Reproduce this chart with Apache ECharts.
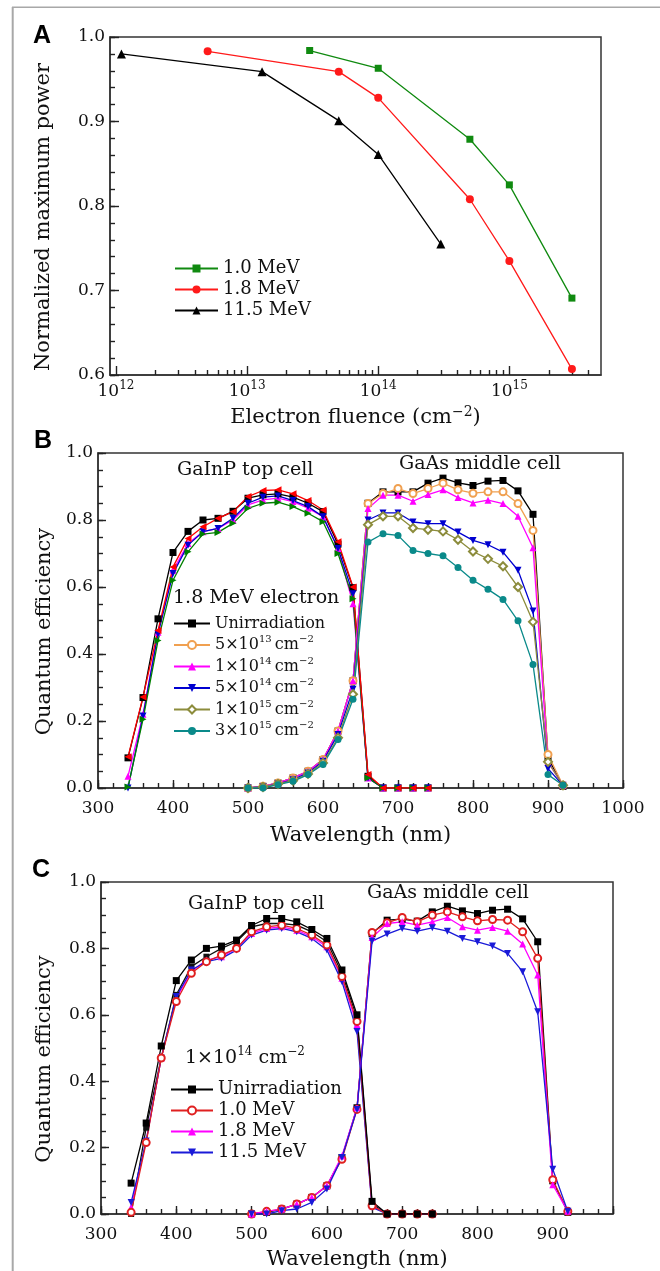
<!DOCTYPE html>
<html><head><meta charset="utf-8">
<script src="https://cdn.jsdelivr.net/npm/echarts@6/dist/echarts.min.js"></script>
<style>html,body{margin:0;padding:0;background:#fff}#c{width:660px;height:1271px}</style>
</head><body><div id="c"></div>
<script>
// ---------- Panel A: normalized maximum power vs electron fluence ----------
const fluence10 = [3e13, 1e14, 5e14, 1e15, 3e15];
const power10 = [0.984, 0.963, 0.879, 0.825, 0.691];
const fluence18 = [5e12, 5e13, 1e14, 5e14, 1e15, 3e15];
const power18 = [0.983, 0.959, 0.928, 0.808, 0.735, 0.607];
const fluence115 = [1.1e12, 1.3e13, 5e13, 1e14, 3e14];
const power115 = [0.980, 0.959, 0.901, 0.861, 0.755];
const fluenceExponents = [12, 13, 14, 15];
const fluenceMin = 9e11, fluenceMax = 5e15;

// ---------- Panels B & C: quantum efficiency ----------
const wlTop = [340,360,380,400,420,440,460,480,500,520,540,560,580,600,620,640,660,680,700,720,740];
const wlMid = [500,520,540,560,580,600,620,640,660,680,700,720,740,760,780,800,820,840,860,880,900,920];

// Panel B top cell (GaInP)
const bTopUnirr = [0.09,0.27,0.505,0.703,0.766,0.80,0.805,0.826,0.865,0.875,0.878,0.868,0.85,0.825,0.728,0.598,0.035,0,0,0,0];
const bTop5e13 = [0.093,0.272,0.47,0.66,0.745,0.78,0.805,0.825,0.87,0.888,0.89,0.878,0.858,0.83,0.735,0.60,0.04,0,0,0,0];
const bTop1e14 = [0.035,0.22,0.465,0.65,0.73,0.765,0.775,0.80,0.845,0.86,0.865,0.855,0.835,0.81,0.715,0.55,0.03,0,0,0,0];
const bTop5e14 = [0.0,0.215,0.46,0.64,0.725,0.765,0.775,0.805,0.85,0.868,0.872,0.858,0.84,0.81,0.715,0.58,0.03,0,0,0,0];
const bTop3e15 = [0.003,0.205,0.44,0.62,0.705,0.758,0.763,0.79,0.835,0.85,0.853,0.84,0.82,0.795,0.70,0.565,0.03,0,0,0,0];
// Panel B middle cell (GaAs)
const bMidUnirr = [0.0,0.005,0.015,0.03,0.05,0.085,0.17,0.32,0.85,0.884,0.884,0.884,0.91,0.925,0.911,0.903,0.916,0.918,0.887,0.817,0.09,0.005];
const bMid5e13 = [0.0,0.005,0.015,0.03,0.05,0.085,0.17,0.32,0.849,0.879,0.894,0.879,0.894,0.91,0.89,0.88,0.884,0.884,0.849,0.769,0.10,0.008];
const bMid1e14 = [0.0,0.005,0.015,0.03,0.05,0.085,0.17,0.32,0.834,0.874,0.874,0.856,0.876,0.89,0.867,0.851,0.859,0.849,0.811,0.717,0.078,0.008];
const bMid5e14 = [0.0,0.003,0.012,0.025,0.045,0.08,0.16,0.295,0.80,0.821,0.821,0.794,0.789,0.789,0.764,0.739,0.726,0.704,0.65,0.528,0.058,0.008];
const bMid1e15 = [0.0,0.003,0.012,0.022,0.042,0.075,0.15,0.28,0.786,0.811,0.811,0.776,0.771,0.766,0.741,0.706,0.684,0.662,0.60,0.496,0.078,0.008];
const bMid3e15 = [0.0,0.0,0.01,0.02,0.04,0.07,0.145,0.265,0.734,0.759,0.754,0.709,0.70,0.693,0.658,0.62,0.593,0.563,0.499,0.369,0.04,0.008];

// Panel C top cell (GaInP)
const cTopUnirr = [0.093,0.274,0.506,0.703,0.765,0.80,0.807,0.825,0.869,0.89,0.89,0.88,0.857,0.83,0.735,0.60,0.038,0,0,0,0];
const cTopDark = [0.0,0.26,0.47,0.66,0.745,0.775,0.80,0.82,0.865,0.875,0.875,0.87,0.85,0.82,0.725,0.59,0.03,0,0,0,0];
const cTop10 = [0.005,0.215,0.47,0.64,0.725,0.76,0.78,0.80,0.85,0.865,0.87,0.86,0.84,0.81,0.715,0.58,0.025,0,0,0,0];
const cTop18 = [0.02,0.22,0.47,0.65,0.73,0.765,0.775,0.80,0.845,0.86,0.865,0.855,0.835,0.805,0.71,0.57,0.025,0,0,0,0];
const cTop115 = [0.035,0.22,0.47,0.655,0.735,0.76,0.77,0.795,0.84,0.855,0.86,0.85,0.83,0.795,0.70,0.55,0.02,0,0,0,0];
// Panel C middle cell (GaAs)
const cMidUnirr = [0.0,0.005,0.015,0.03,0.05,0.085,0.17,0.32,0.845,0.885,0.888,0.882,0.91,0.927,0.913,0.905,0.915,0.918,0.889,0.82,0.10,0.005];
const cMid10 = [0.0,0.008,0.015,0.03,0.05,0.085,0.165,0.315,0.848,0.877,0.893,0.88,0.90,0.91,0.895,0.883,0.887,0.885,0.85,0.77,0.103,0.008];
const cMid18 = [0.0,0.008,0.015,0.03,0.05,0.085,0.175,0.32,0.833,0.875,0.88,0.87,0.88,0.893,0.865,0.855,0.863,0.852,0.813,0.72,0.088,0.008];
const cMid115 = [0.0,0.0,0.01,0.015,0.035,0.075,0.17,0.315,0.822,0.843,0.86,0.852,0.862,0.852,0.83,0.82,0.807,0.785,0.73,0.609,0.135,0.008];

// ---------- helpers ----------
const SERIF = '"DejaVu Serif", serif';
const AXC = '#333';
const TKC = '#222';
const lg = Math.log10;
const pair = (xs, ys) => xs.map((x, i) => [x, ys[i]]);
const logPair = (xs, ys) => xs.map((x, i) => [lg(x), ys[i]]);

// grid boxes (plot areas)
const G = [
  { left: 110, top: 37, width: 491, height: 338 },
  { left: 98, top: 453, width: 525, height: 335 },
  { left: 101, top: 882, width: 512, height: 332 }
];

function line(name, data, color, symbol, size, xi, yi, rot) {
  return {
    name, type: 'line', data, xAxisIndex: xi, yAxisIndex: yi,
    symbol, symbolSize: size, symbolRotate: rot || 0,
    showAllSymbol: true, animation: false,
    itemStyle: { color, borderColor: color, borderWidth: symbol.indexOf('empty') === 0 ? 1.2 : 0 },
    lineStyle: { color, width: 1.3 },
    emphasis: { disabled: true }
  };
}

const minorLog = [];
for (let n = 12; n <= 15; n++) for (let k = 2; k <= 9; k++) {
  const v = k * Math.pow(10, n);
  if (v > fluenceMin && v < fluenceMax) minorLog.push(lg(v));
}

const supRich = (fs) => ({ s: { fontSize: fs, lineHeight: fs, verticalAlign: 'top', fontFamily: SERIF, color: '#111' } });
const axLine = () => ({ show: true, onZero: false, lineStyle: { color: AXC, width: 1.5 } });

// tick-only x axis: placed at the top slot, moved down onto the bottom edge, ticks pointing up into the plot
function xTicks(gi, min, max, len, opts) {
  return Object.assign({
    gridIndex: gi, type: 'value', position: 'top', offset: -G[gi].height, min, max,
    axisLine: { show: false, onZero: false },
    axisTick: Object.assign({ show: true, inside: false, length: len, lineStyle: { color: TKC, width: 1.4 } }, opts.tick || {}),
    axisLabel: { show: false }, splitLine: { show: false }
  }, opts.axis || {});
}
// tick-only y axis: placed at the right slot, moved left onto the left edge, ticks pointing right into the plot
function yTicks(gi, min, max, interval, len) {
  return {
    gridIndex: gi, type: 'value', position: 'right', offset: -G[gi].width, min, max, interval,
    axisLine: { show: false, onZero: false },
    axisTick: { show: true, inside: false, length: len, lineStyle: { color: TKC, width: 1.4 } },
    axisLabel: { show: false }, splitLine: { show: false }
  };
}

function yAxisQE(gi, gap) {
  return {
    gridIndex: gi, type: 'value', position: 'left', min: 0, max: 1, interval: 0.2,
    axisLine: axLine(), axisTick: { show: false },
    axisLabel: { fontSize: 17, fontFamily: SERIF, color: '#111', margin: 5, formatter: v => v.toFixed(1) },
    splitLine: { show: false },
    name: 'Quantum efficiency', nameLocation: 'middle', nameGap: gap,
    nameTextStyle: { fontSize: 21, fontFamily: SERIF, color: '#111', padding: [0, 22, 0, 0] }
  };
}

const option = {
  animation: false,
  textStyle: { fontFamily: SERIF },
  grid: G.map(g => Object.assign({ show: true, borderColor: AXC, borderWidth: 1.5 }, g)),
  xAxis: [
    { // 0: A labels
      gridIndex: 0, type: 'value', position: 'bottom', min: lg(fluenceMin), max: lg(fluenceMax),
      axisLine: axLine(), axisTick: { show: false },
      axisLabel: { customValues: fluenceExponents, formatter: v => '10{s|' + Math.round(v) + '}',
        fontSize: 17, lineHeight: 24, fontFamily: SERIF, color: '#111', margin: 5, rich: supRich(12) },
      splitLine: { show: false },
      name: 'Electron fluence (cm{s|\u22122})', nameLocation: 'middle', nameGap: 29,
      nameTextStyle: { fontSize: 21, lineHeight: 26, fontFamily: SERIF, color: '#111', rich: supRich(14) }
    },
    xTicks(0, lg(fluenceMin), lg(fluenceMax), 9, { tick: { customValues: fluenceExponents } }), // 1: A major ticks
    xTicks(0, lg(fluenceMin), lg(fluenceMax), 5, { tick: { customValues: minorLog } }),        // 2: A minor ticks
    { // 3: B labels
      gridIndex: 1, type: 'value', position: 'bottom', min: 300, max: 1000, interval: 100,
      axisLine: axLine(), axisTick: { show: false },
      axisLabel: { fontSize: 17, fontFamily: SERIF, color: '#111', margin: 12, formatter: v => String(v) },
      splitLine: { show: false },
      name: 'Wavelength (nm)', nameLocation: 'middle', nameGap: 37,
      nameTextStyle: { fontSize: 21, fontFamily: SERIF, color: '#111' }
    },
    xTicks(1, 300, 1000, 8, { axis: { interval: 100 } }),  // 4
    xTicks(1, 300, 1000, 5, { axis: { interval: 20 } }),   // 5
    { // 6: C labels
      gridIndex: 2, type: 'value', position: 'bottom', min: 300, max: 980, interval: 100,
      axisLine: axLine(), axisTick: { show: false },
      axisLabel: { fontSize: 17, fontFamily: SERIF, color: '#111', margin: 12, showMaxLabel: false, formatter: v => String(v) },
      splitLine: { show: false },
      name: 'Wavelength (nm)', nameLocation: 'middle', nameGap: 35,
      nameTextStyle: { fontSize: 21, fontFamily: SERIF, color: '#111' }
    },
    xTicks(2, 300, 980, 8, { axis: { interval: 100 } }),   // 7
    xTicks(2, 300, 980, 5, { axis: { interval: 20 } })     // 8
  ],
  yAxis: [
    { // 0: A labels
      gridIndex: 0, type: 'value', position: 'left', min: 0.6, max: 1.0, interval: 0.1,
      axisLine: axLine(), axisTick: { show: false },
      axisLabel: { fontSize: 17, fontFamily: SERIF, color: '#111', margin: 5, formatter: v => v.toFixed(1) },
      splitLine: { show: false },
      name: 'Normalized maximum power', nameLocation: 'middle', nameGap: 56,
      nameTextStyle: { fontSize: 21, fontFamily: SERIF, color: '#111', padding: [0, 22, 0, 0] }
    },
    yTicks(0, 0.6, 1.0, 0.1, 9),   // 1
    yTicks(0, 0.6, 1.0, 0.02, 5),  // 2
    yAxisQE(1, 40),                // 3
    yTicks(1, 0, 1, 0.2, 8),       // 4
    yTicks(1, 0, 1, 0.05, 5),      // 5
    yAxisQE(2, 46),                // 6
    yTicks(2, 0, 1, 0.2, 8),       // 7
    yTicks(2, 0, 1, 0.05, 5)       // 8
  ],
  legend: [
    {
      data: ['A 1.0 MeV', 'A 1.8 MeV', 'A 11.5 MeV'], orient: 'vertical', left: 169, top: 253,
      itemWidth: 43, itemHeight: 10, itemGap: 0, selectedMode: false,
      formatter: n => n.slice(2),
      textStyle: { fontSize: 18, lineHeight: 21, fontFamily: SERIF, color: '#111' }
    },
    {
      data: ['B Unirradiation', 'B 5e13', 'B 1e14', 'B 5e14', 'B 1e15', 'B 3e15'], orient: 'vertical', left: 168, top: 608,
      itemWidth: 36, itemHeight: 10, itemGap: 0.5, selectedMode: false,
      formatter: n => ({
        'B Unirradiation': 'Unirradiation',
        'B 5e13': '5\u00d710{s|13}\u2009cm{s|\u22122}',
        'B 1e14': '1\u00d710{s|14}\u2009cm{s|\u22122}',
        'B 5e14': '5\u00d710{s|14}\u2009cm{s|\u22122}',
        'B 1e15': '1\u00d710{s|15}\u2009cm{s|\u22122}',
        'B 3e15': '3\u00d710{s|15}\u2009cm{s|\u22122}'
      })[n],
      textStyle: { fontSize: 16, lineHeight: 21, fontFamily: SERIF, color: '#111', rich: supRich(10) }
    },
    {
      data: ['C Unirradiation', 'C 1.0 MeV', 'C 1.8 MeV', 'C 11.5 MeV'], orient: 'vertical', left: 165, top: 1074,
      itemWidth: 42, itemHeight: 10, itemGap: 0, selectedMode: false,
      formatter: n => n.slice(2),
      textStyle: { fontSize: 18, lineHeight: 21, fontFamily: SERIF, color: '#111' }
    }
  ],
  series: [
    // A (bound to the A x axes, all sharing the same scale)
    line('A 1.0 MeV', logPair(fluence10, power10), '#108a10', 'rect', 7, 1, 0),
    line('A 1.8 MeV', logPair(fluence18, power18), '#ff1a1a', 'circle', 8, 2, 0),
    line('A 11.5 MeV', logPair(fluence115, power115), '#000000', 'triangle', 9, 0, 0),
    // B top cell
    line('B top unirr', pair(wlTop, bTopUnirr), '#000000', 'rect', 7, 3, 3),
    line('B top 1e14', pair(wlTop, bTop1e14), '#ff00ff', 'triangle', 7, 3, 3),
    line('B top 5e14', pair(wlTop, bTop5e14), '#0000d0', 'triangle', 7, 3, 3, 180),
    line('B top 3e15', pair(wlTop, bTop3e15), '#008000', 'triangle', 7, 3, 3, -90),
    line('B top 5e13', pair(wlTop, bTop5e13), '#ff0000', 'triangle', 7, 3, 3, 90),
    // B middle cell
    line('B Unirradiation', pair(wlMid, bMidUnirr), '#000000', 'rect', 7, 3, 3),
    line('B 5e13', pair(wlMid, bMid5e13), '#f0a050', 'emptyCircle', 7, 3, 3),
    line('B 1e14', pair(wlMid, bMid1e14), '#ff00ff', 'triangle', 7, 3, 3),
    line('B 5e14', pair(wlMid, bMid5e14), '#0000d0', 'triangle', 7, 3, 3, 180),
    line('B 1e15', pair(wlMid, bMid1e15), '#8c8c3c', 'emptyDiamond', 8, 3, 3),
    line('B 3e15', pair(wlMid, bMid3e15), '#0a8a8a', 'circle', 7, 3, 3),
    // C top cell
    line('C top dark', pair(wlTop, cTopDark), '#111111', 'rect', 6, 6, 6),
    line('C top 1.8', pair(wlTop, cTop18), '#ff00ff', 'triangle', 7, 6, 6),
    line('C top 11.5', pair(wlTop, cTop115), '#1a1ad8', 'triangle', 7, 6, 6, 180),
    line('C top 1.0', pair(wlTop, cTop10), '#e02020', 'emptyCircle', 7, 6, 6),
    line('C top unirr', pair(wlTop, cTopUnirr), '#000000', 'rect', 7, 6, 6),
    // C middle cell
    line('C Unirradiation', pair(wlMid, cMidUnirr), '#000000', 'rect', 7, 6, 6),
    line('C 1.0 MeV', pair(wlMid, cMid10), '#e02020', 'emptyCircle', 7, 6, 6),
    line('C 1.8 MeV', pair(wlMid, cMid18), '#ff00ff', 'triangle', 7, 6, 6),
    line('C 11.5 MeV', pair(wlMid, cMid115), '#1a1ad8', 'triangle', 7, 6, 6, 180)
  ],
  graphic: [
    { type: 'line', silent: true, shape: { x1: 12.7, y1: 7, x2: 12.7, y2: 1271 }, style: { stroke: '#a8a8a8', lineWidth: 2 } },
    { type: 'line', silent: true, shape: { x1: 12, y1: 7.3, x2: 660, y2: 7.3 }, style: { stroke: '#a8a8a8', lineWidth: 1.5 } },
    { type: 'text', x: 42, y: 36, style: { text: 'A', font: 'bold 25px "Liberation Sans", Arial, sans-serif', fill: '#000', align: 'center', verticalAlign: 'middle' } },
    { type: 'text', x: 43, y: 441, style: { text: 'B', font: 'bold 25px "Liberation Sans", Arial, sans-serif', fill: '#000', align: 'center', verticalAlign: 'middle' } },
    { type: 'text', x: 41, y: 870, style: { text: 'C', font: 'bold 25px "Liberation Sans", Arial, sans-serif', fill: '#000', align: 'center', verticalAlign: 'middle' } },
    { type: 'text', x: 177, y: 470, style: { text: 'GaInP top cell', font: '19px "DejaVu Serif", serif', fill: '#111', align: 'left', verticalAlign: 'middle' } },
    { type: 'text', x: 399, y: 464, style: { text: 'GaAs middle cell', font: '19px "DejaVu Serif", serif', fill: '#111', align: 'left', verticalAlign: 'middle' } },
    { type: 'text', x: 173, y: 598, style: { text: '1.8 MeV electron', font: '19px "DejaVu Serif", serif', fill: '#111', align: 'left', verticalAlign: 'middle' } },
    { type: 'text', x: 188, y: 904, style: { text: 'GaInP top cell', font: '19px "DejaVu Serif", serif', fill: '#111', align: 'left', verticalAlign: 'middle' } },
    { type: 'text', x: 367, y: 893, style: { text: 'GaAs middle cell', font: '19px "DejaVu Serif", serif', fill: '#111', align: 'left', verticalAlign: 'middle' } },
    { type: 'text', x: 185, y: 1058, style: { text: '1\u00d710{s|14} cm{s|\u22122}', fontSize: 19, fontFamily: SERIF, lineHeight: 24, fill: '#111', align: 'left', verticalAlign: 'middle',
      rich: { s: { fontSize: 12, lineHeight: 12, verticalAlign: 'top', fontFamily: SERIF, fill: '#111' } } } }
  ]
};

const chart = echarts.init(document.getElementById('c'), null, { renderer: 'canvas' });
chart.setOption(option);
</script>
</body></html>
